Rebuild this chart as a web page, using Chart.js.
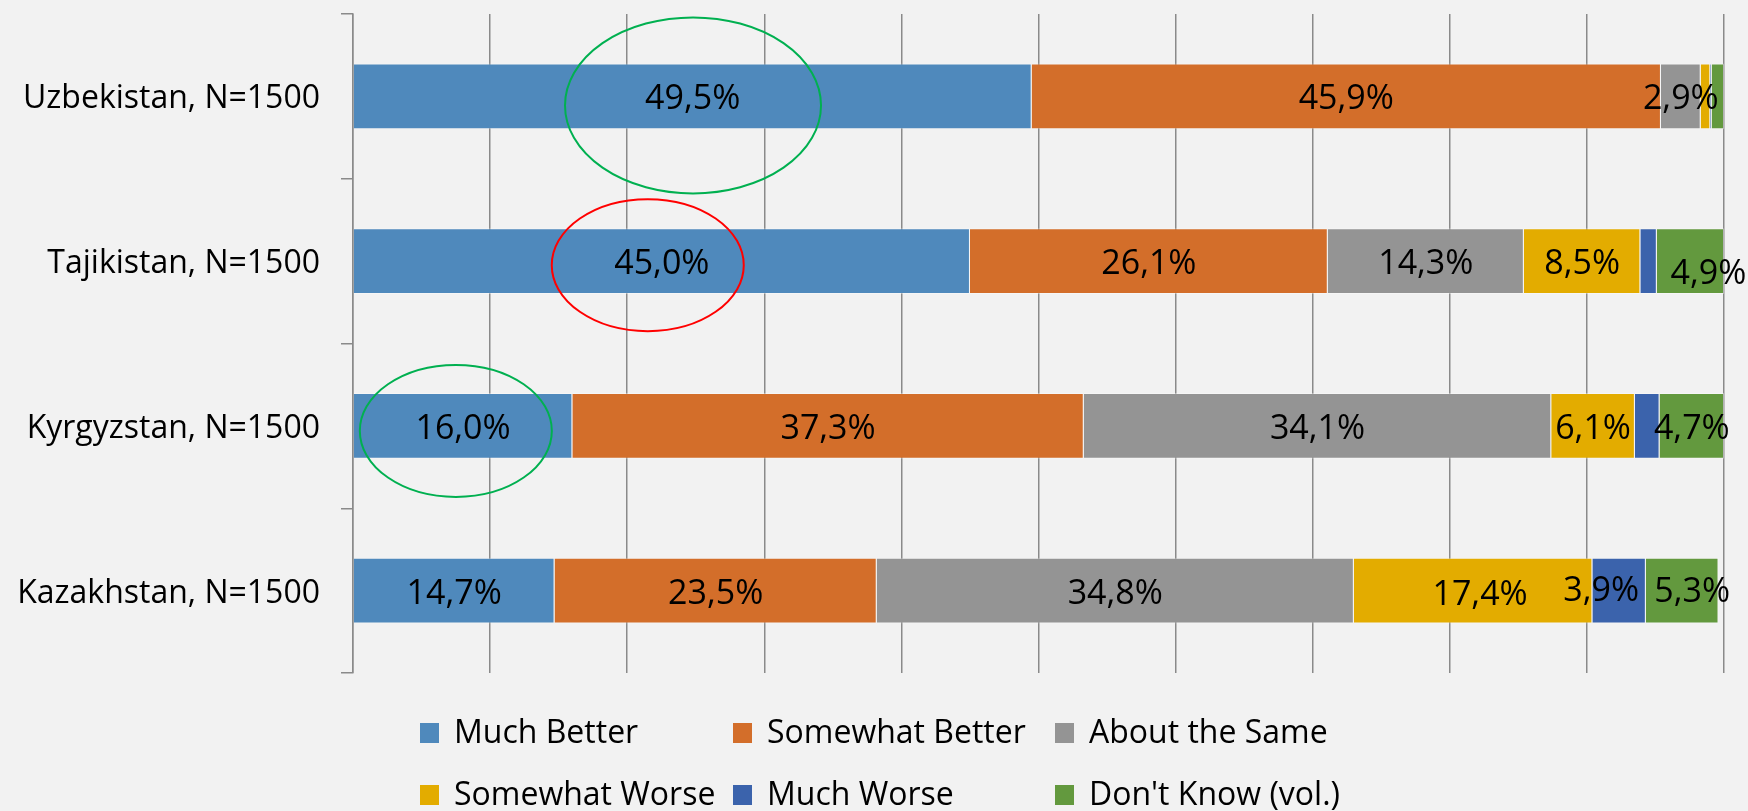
<!DOCTYPE html>
<html>
<head>
<meta charset="utf-8">
<script src="https://cdn.jsdelivr.net/npm/chart.js@4/dist/chart.umd.min.js"></script>
<style>
  html, body { margin: 0; padding: 0; background: #f2f2f2; }
  #wrap { width: 1748px; height: 811px; }
</style>
</head>
<body>
<div id="wrap"><canvas id="grafico" width="1748" height="811"></canvas></div>
<script>
const categorias = ["Uzbekistan, N=1500", "Tajikistan, N=1500", "Kyrgyzstan, N=1500", "Kazakhstan, N=1500"];
const seriesNames = ["Much Better", "Somewhat Better", "About the Same", "Somewhat Worse", "Much Worse", "Don't Know (vol.)"];
const muchBetter = [49.5, 45.0, 16.0, 14.7];
const somewhatBetter = [45.9, 26.1, 37.3, 23.5];
const aboutSame = [2.9, 14.3, 34.1, 34.8];
const somewhatWorse = [0.7, 8.5, 6.1, 17.4];
const muchWorse = [0.1, 1.2, 1.8, 3.9];
const dontKnow = [0.9, 4.9, 4.7, 5.3];
const xTicks = [0, 10, 20, 30, 40, 50, 60, 70, 80, 90, 100];

const colores = ["#4f89bc", "#d36e2a", "#949494", "#e3ac00", "#3b63ac", "#63993e"];
const valores = [muchBetter, somewhatBetter, aboutSame, somewhatWorse, muchWorse, dontKnow];
const fuente = "'Open Sans', 'Noto Sans', sans-serif";

// labels nudged a bit where the segment is too narrow
const labelOffsets = { "5:1": [18, 10], "4:3": [-18, -3], "5:3": [10, -2], "3:3": [7, 1] };

const datasets = seriesNames.map((name, i) => ({
  label: name,
  data: valores[i],
  backgroundColor: colores[i],
  borderColor: "rgba(255,255,255,0.35)",
  borderWidth: 1,
  categoryPercentage: 1,
  barPercentage: 0.4
}));

const etiquetas = {
  id: "etiquetas",
  afterDatasetsDraw(chart) {
    const ctx = chart.ctx;
    ctx.save();
    ctx.font = "34px " + fuente;
    ctx.fillStyle = "#000";
    ctx.textAlign = "center";
    ctx.textBaseline = "alphabetic";
    chart.data.datasets.forEach((ds, d) => {
      chart.getDatasetMeta(d).data.forEach((bar, i) => {
        const v = ds.data[i];
        if (v < 2) return;
        const off = labelOffsets[d + ":" + i] || [0, 0];
        const x = (bar.x + bar.base) / 2 + off[0];
        ctx.fillText(v.toFixed(1).replace(".", ",") + "%", x, bar.y + 13 + off[1]);
      });
    });
    ctx.restore();
  }
};

// circled values
const elipses = {
  id: "elipses",
  afterDatasetsDraw(chart) {
    const ctx = chart.ctx;
    const xs = chart.scales.x, ys = chart.scales.y;
    const marcas = [
      { v: 24.8, cat: 0, dy: 9, rx: 128, ry: 88, color: "#00b050" },
      { v: 21.5, cat: 1, dy: 4, rx: 96, ry: 66, color: "#ff0000" },
      { v: 7.5, cat: 2, dy: 5, rx: 96, ry: 66, color: "#00b050" }
    ];
    ctx.save();
    ctx.lineWidth = 2;
    marcas.forEach(m => {
      ctx.strokeStyle = m.color;
      ctx.beginPath();
      ctx.ellipse(xs.getPixelForValue(m.v), ys.getPixelForValue(m.cat) + m.dy, m.rx, m.ry, 0, 0, Math.PI * 2);
      ctx.stroke();
    });
    ctx.restore();
  }
};

// legend laid out as a 3 column grid under the plot
const leyenda = {
  id: "leyenda",
  afterDraw(chart) {
    const ctx = chart.ctx;
    const cols = [420, 733, 1055];
    const rows = [733, 795];
    ctx.save();
    ctx.font = "32px " + fuente;
    ctx.textBaseline = "middle";
    ctx.textAlign = "left";
    seriesNames.forEach((name, i) => {
      const x = cols[i % 3];
      const y = rows[Math.floor(i / 3)];
      ctx.fillStyle = colores[i];
      ctx.fillRect(x, y - 10, 19, 20);
      ctx.fillStyle = "#000";
      ctx.fillText(name, x + 34, y + 1);
    });
    ctx.restore();
  }
};

const bgPlugin = {
  id: "fondo",
  beforeDraw(chart) {
    const ctx = chart.ctx;
    ctx.save();
    ctx.fillStyle = "#f2f2f2";
    ctx.fillRect(0, 0, chart.width, chart.height);
    ctx.restore();
  }
};

const ctx = document.getElementById("grafico").getContext("2d");
let chartInstance = new Chart(ctx, {
  type: "bar",
  data: { labels: categorias, datasets: datasets },
  options: {
    indexAxis: "y",
    responsive: false,
    animation: false,
    layout: { padding: { left: 0, top: 14, right: 24, bottom: 138 } },
    plugins: { legend: { display: false }, tooltip: { enabled: false } },
    scales: {
      x: {
        stacked: true,
        min: 0,
        max: 100,
        afterBuildTicks: s => { s.ticks = xTicks.map(v => ({ value: v })); },
        ticks: { display: false },
        grid: { color: "#8a8a8a", lineWidth: 1.5, drawTicks: false },
        border: { display: false },
        afterFit: s => { s.height = 0; s.paddingLeft = 0; s.paddingRight = 0; }
      },
      y: {
        stacked: true,
        ticks: { color: "#000", font: { family: fuente, size: 32 }, padding: 21, labelOffset: 3 },
        grid: { drawOnChartArea: false, tickLength: 12, color: "#8a8a8a", lineWidth: 1.5, offset: true },
        border: { color: "#8a8a8a", width: 1.5 },
        afterFit: s => { s.width = 353; s.paddingTop = 0; s.paddingBottom = 0; }
      }
    }
  },
  plugins: [bgPlugin, etiquetas, elipses, leyenda]
});
</script>
</body>
</html>
